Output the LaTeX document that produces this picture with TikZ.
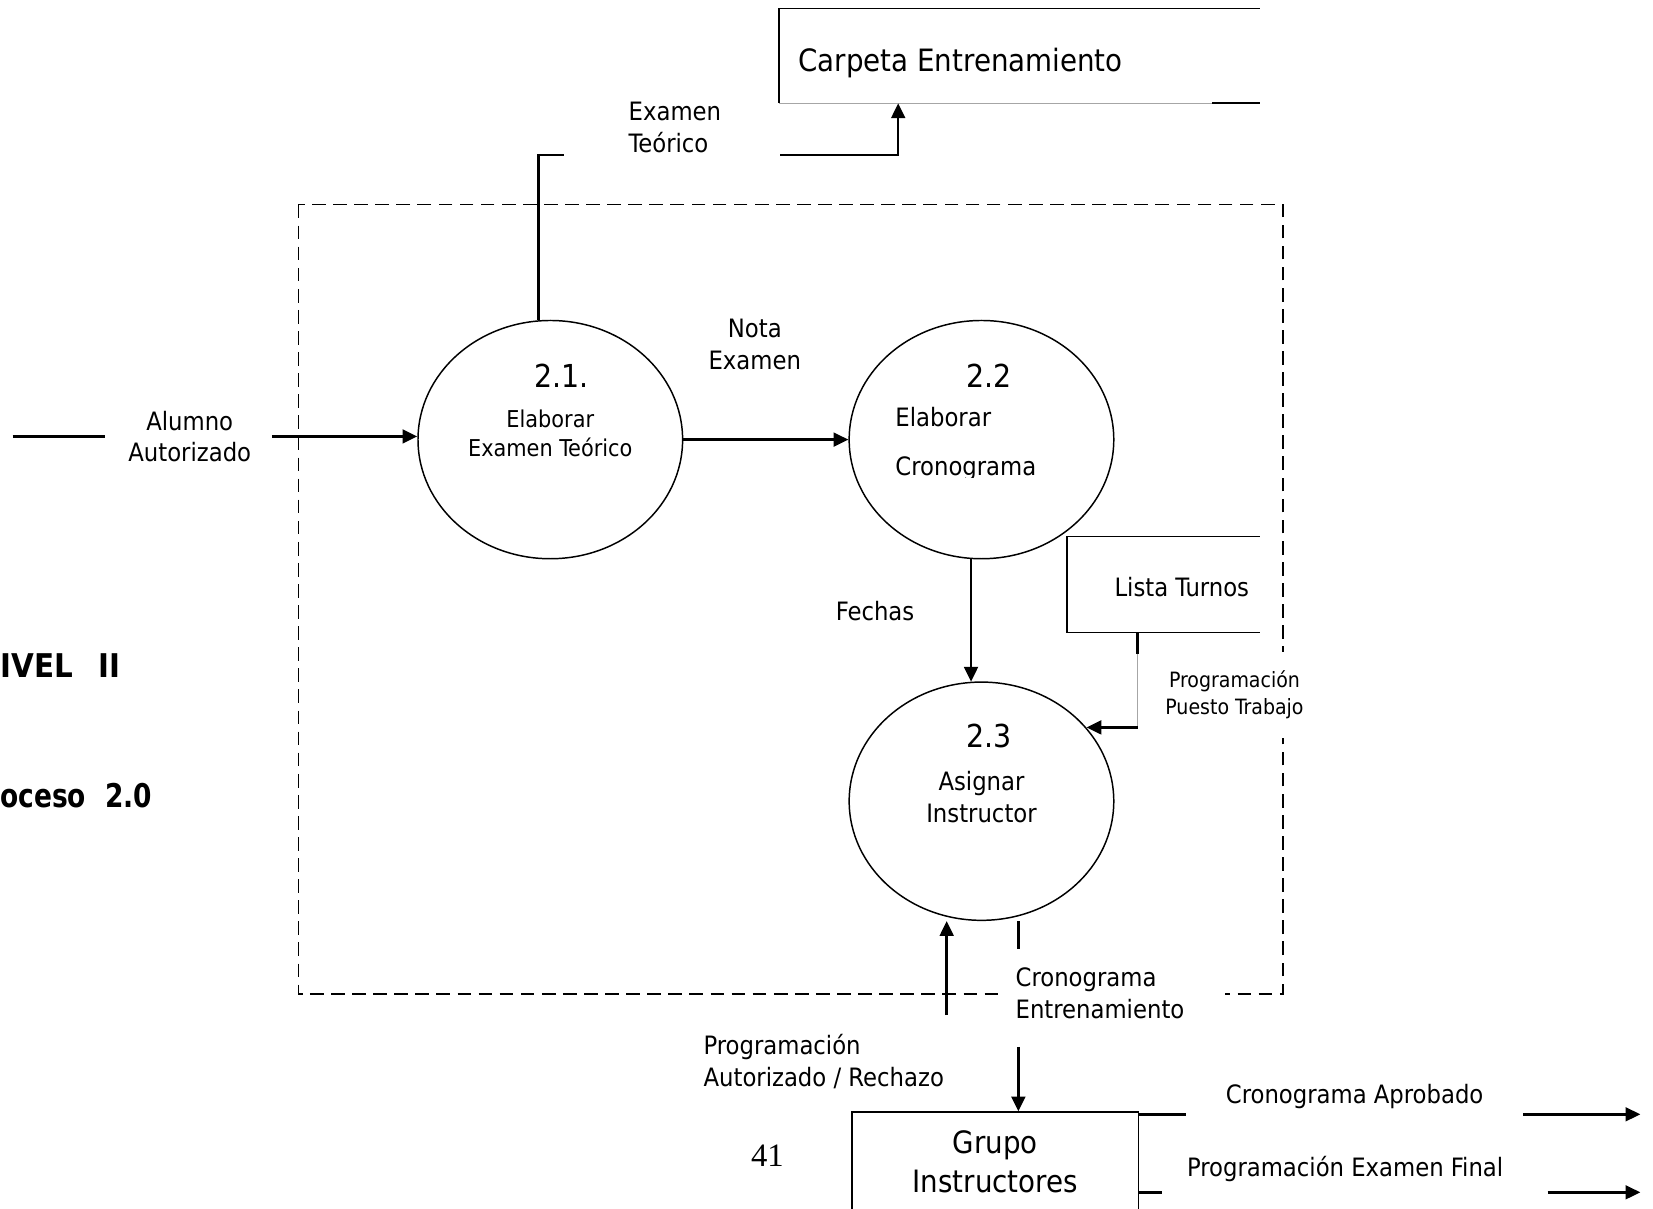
\documentclass[tikz,border=0pt]{standalone}
\usepackage{fontspec}
\setmainfont{DejaVu Sans Condensed}
\newfontfamily\pagefont{Liberation Serif}
\usetikzlibrary{shapes.geometric,arrows.meta}

\begin{document}
\begin{tikzpicture}[x=0.5pt,y=-0.5pt,
  line/.style={line width=1.2pt},
  flow/.style={line width=1.2pt,-{Triangle[length=7pt,width=6.5pt]}},
  faint/.style={line width=0.4pt,draw=black!35},
  boxline/.style={line width=0.8pt},
  proc/.style={draw,ellipse,line width=0.7pt,minimum width=125.5pt,minimum height=113pt,inner sep=0pt},
  holder/.style={inner sep=0pt,outer sep=0pt},
  num/.style={font=\fontsize{15}{18}\selectfont,inner sep=0pt},
  big/.style={font=\fontsize{14.6}{18.5}\selectfont,inner sep=0pt,align=center},
  lbl/.style={font=\fontsize{12}{15}\selectfont,inner sep=0pt,align=center},
  sml/.style={font=\fontsize{11}{13.5}\selectfont,inner sep=0pt,align=center},
  tiny/.style={font=\fontsize{10}{12.5}\selectfont,inner sep=0pt,align=center},
  heading/.style={font=\bfseries\fontsize{15.5}{18}\selectfont,inner sep=0pt,anchor=west}
]
\useasboundingbox (0,0) rectangle (1568,1146);

% boundary of process 2.0
\draw[line width=0.8pt,dash pattern=on 6.5pt off 3.5pt] (283,194) rectangle (1217,943);

% headings at the left margin
\node[heading] (nivel) at (0,631) {IVEL\hspace{12pt}II};
\node[heading] (proceso) at (0,755) {\scalebox{0.9}[1]{oceso\hspace{10pt}2.0}};

% processes
\node[proc] (p1) at (522,417) {};
\node[proc] (p2) at (931,417) {};
\node[proc] (p3) at (931,760) {};

\node[num] (n1) at (533,356) {2.1.};
\node[sml] (t1) at (522,411) {Elaborar\\Examen Teórico};

\node[num] (n2) at (938,356) {2.2};
\begin{scope}
  \clip (800,300) rectangle (1060,453);
  \node[lbl,anchor=west,align=left,font=\fontsize{12}{23}\selectfont] (t2) at (849,421) {Elaborar\\Cronograma};
\end{scope}

\node[num] (n3) at (938,698) {2.3};
\node[lbl] (t3) at (931,756) {Asignar\\Instructor};

% data store: Carpeta Entrenamiento (open at the right)
\node[holder,minimum width=228pt,minimum height=45pt] (carp) at (967,53) {};
\node[big,anchor=west] (carpt) at (757,60) {Carpeta Entrenamiento};
\draw[boxline] (carp.north east) -- (carp.north west) -- (carp.south west);
\draw[faint] (carp.south west) -- ++(411,0);
\draw[boxline] (carp.south east) -- ++(-45,0);

% data store: Lista Turnos (open at the right)
\node[holder,minimum width=91.5pt,minimum height=45.5pt] (lista) at (1103.5,554.5) {};
\node[lbl] (listat) at (1121,557) {Lista Turnos};
\draw[boxline] (lista.north east) -- (lista.north west) -- (lista.south west) -- (lista.south east);

% external entity: Grupo Instructores
\node[draw,boxline,minimum width=136pt,minimum height=47.5pt,inner sep=0pt,
      font=\fontsize{14.6}{18.5}\selectfont,align=center] (grupo) at (944,1102.5) {Grupo\\Instructores};

% Alumno Autorizado
\node[lbl] (alumno) at (180,414) {Alumno\\Autorizado};
\coordinate (a0) at (12,414);
\coordinate (a1) at (100,414);
\coordinate (a2) at (258,414);
\draw[line] (a0) -- (a1);
\draw[flow] (a2) -- (a2 -| p1.west);

% Nota Examen
\node[lbl] (nota) at (716,327) {Nota\\Examen};
\draw[flow] (p1.east) -- (p2.west);

% Examen Teorico
\node[lbl,anchor=west,align=left] (exam) at (596,121) {Examen\\Teórico};
\coordinate (e1) at (511,147);
\coordinate (e2) at (535,147);
\coordinate (e3) at (740,147);
\coordinate (e4) at (852,147);
\draw[line] (e1 |- p1.north) -- (e1) -- (e2);
\draw[flow] (e3) -- (e4) -- (e4 |- carp.south);

% Fechas
\node[lbl] (fechas) at (830,580) {Fechas};
\draw[flow] (p2.265) -- (p3.95);

% Programacion Puesto Trabajo
\node[tiny,fill=white,inner xsep=3pt,inner ysep=9pt] (ppt) at (1171,659) {Programación\\Puesto Trabajo};
\coordinate (l1) at (1079,620);
\coordinate (l2) at (1079,690);
\draw[line] (l1 |- lista.south) -- (l1);
\draw[faint] (l1) -- (l2);
\draw[flow] (l2) -- (l2 -| p3.35);

% Cronograma Entrenamiento
\node[lbl,anchor=west,align=left,fill=white,text width=91pt,inner xsep=8.5pt,inner ysep=2pt] (crono) at (946,942) {Cronograma\\Entrenamiento};
\coordinate (c1) at (966,874);
\coordinate (c2) at (966,900);
\coordinate (c3) at (966,993);
\draw[line] (c1) -- (c2);
\draw[flow] (c3) -- (c3 |- grupo.north);

% Programacion Autorizado / Rechazo
\node[lbl,anchor=west,align=left] (autor) at (667,1007) {Programación\\Autorizado / Rechazo};
\coordinate (r1) at (898,963);
\draw[flow] (r1) -- (r1 |- p3.south);

% outputs of Grupo Instructores
\node[lbl] (aprob) at (1285,1040) {Cronograma Aprobado};
\coordinate (g1) at (1125,1057);
\coordinate (g2) at (1445,1057);
\coordinate (g3) at (1556,1057);
\draw[line] (g1 -| grupo.east) -- (g1);
\draw[flow] (g2) -- (g3);

\node[lbl] (final) at (1276,1109) {Programación Examen Final};
\coordinate (h1) at (1102,1131);
\coordinate (h2) at (1468,1131);
\coordinate (h3) at (1556,1131);
\draw[line] (h1 -| grupo.east) -- (h1);
\draw[flow] (h2) -- (h3);

% page number
\node[font=\pagefont\fontsize{15.5}{15.5}\selectfont,inner sep=0pt] (pg) at (728,1096.5) {41};
\end{tikzpicture}
\end{document}
